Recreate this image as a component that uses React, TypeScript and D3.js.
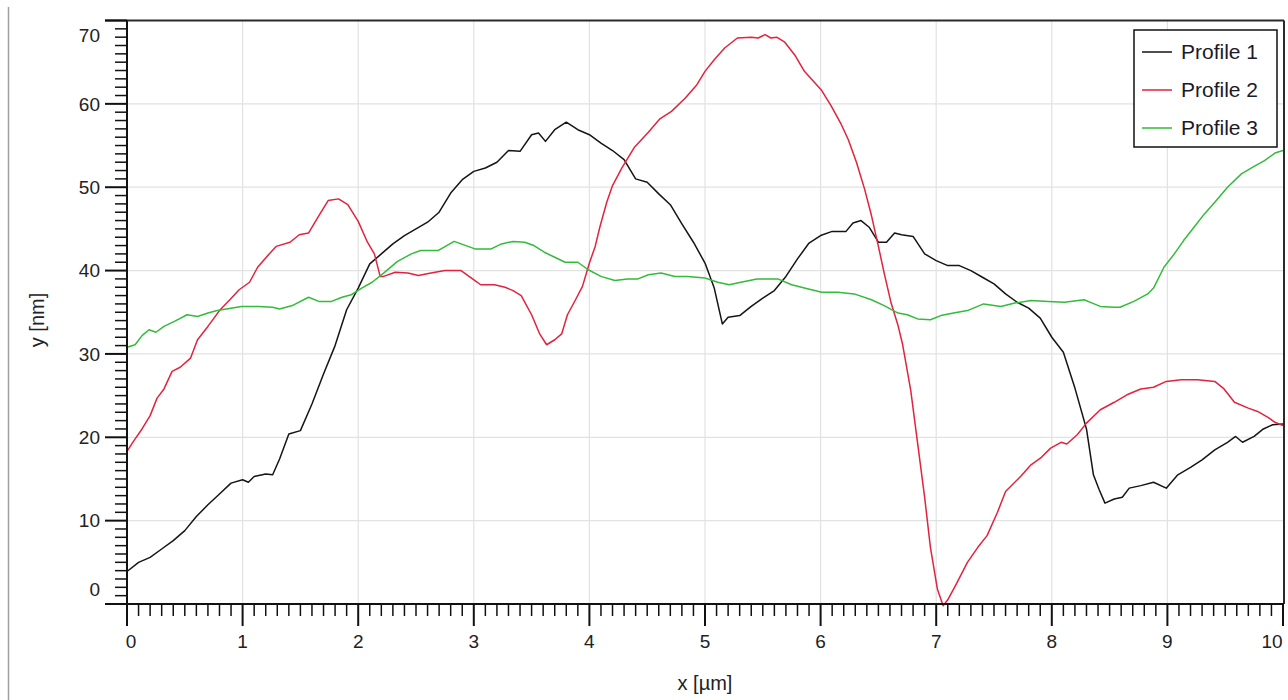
import React from 'react';
import * as d3 from 'd3';

// profile data: [x in µm, y in nm]
const profile1: [number, number][] = [
  [0, 3.9], [0.1, 5.0], [0.2, 5.6], [0.3, 6.6], [0.4, 7.6], [0.5, 8.8], [0.6, 10.5], [0.7, 11.9],
  [0.8, 13.2], [0.9, 14.5], [1.0, 14.9], [1.05, 14.6], [1.1, 15.3], [1.2, 15.6], [1.26, 15.5], [1.32, 17.4],
  [1.4, 20.4], [1.5, 20.8], [1.6, 24.0], [1.7, 27.6], [1.8, 31.0], [1.9, 35.3], [2.0, 37.9],
  [2.1, 40.8], [2.2, 42.0], [2.3, 43.2], [2.4, 44.2], [2.5, 45.0], [2.6, 45.8], [2.7, 47.0],
  [2.8, 49.3], [2.9, 50.9], [3.0, 51.9], [3.1, 52.3], [3.2, 53.0], [3.3, 54.4], [3.4, 54.3],
  [3.5, 56.3], [3.56, 56.5], [3.62, 55.5], [3.7, 56.9], [3.8, 57.8], [3.9, 56.9], [4.0, 56.3],
  [4.1, 55.3], [4.2, 54.4], [4.3, 53.3], [4.4, 51.0], [4.5, 50.6], [4.6, 49.2], [4.7, 47.9],
  [4.8, 45.6], [4.9, 43.4], [5.0, 40.9], [5.08, 37.9], [5.15, 33.6], [5.2, 34.4], [5.3, 34.6],
  [5.4, 35.7], [5.5, 36.7], [5.6, 37.6], [5.7, 39.3], [5.8, 41.4], [5.9, 43.3], [6.0, 44.2],
  [6.1, 44.7], [6.22, 44.7], [6.28, 45.7], [6.35, 46.0], [6.42, 45.2], [6.5, 43.4], [6.57, 43.4],
  [6.64, 44.5], [6.7, 44.3], [6.8, 44.1], [6.9, 42.0], [7.0, 41.2], [7.1, 40.6], [7.2, 40.6],
  [7.3, 40.0], [7.4, 39.2], [7.5, 38.4], [7.6, 37.2], [7.7, 36.2], [7.8, 35.5], [7.9, 34.3],
  [8.0, 32.0], [8.1, 30.2], [8.2, 25.9], [8.3, 21.0], [8.36, 15.5], [8.41, 13.7], [8.46, 12.1],
  [8.54, 12.6], [8.61, 12.8], [8.67, 13.9], [8.77, 14.2], [8.88, 14.6], [8.99, 13.9], [9.09, 15.5],
  [9.2, 16.4], [9.3, 17.3], [9.41, 18.5], [9.52, 19.4], [9.59, 20.1], [9.65, 19.4], [9.75, 20.1],
  [9.83, 21.0], [9.91, 21.5], [10.0, 21.6],
];

const profile2: [number, number][] = [
  [0, 18.3], [0.06, 19.6], [0.13, 21.0], [0.2, 22.6], [0.26, 24.7], [0.32, 25.8], [0.39, 27.9],
  [0.46, 28.4], [0.55, 29.5], [0.61, 31.7], [0.7, 33.3], [0.8, 35.2], [0.89, 36.5], [0.97, 37.7],
  [1.06, 38.6], [1.13, 40.4], [1.23, 42.0], [1.29, 42.9], [1.41, 43.4], [1.49, 44.3], [1.57, 44.5],
  [1.66, 46.6], [1.74, 48.4], [1.83, 48.6], [1.91, 47.9], [2.0, 45.9], [2.08, 43.4], [2.14, 42.0],
  [2.19, 39.3], [2.22, 39.3], [2.32, 39.8], [2.43, 39.7], [2.52, 39.4], [2.63, 39.7], [2.75, 40.0],
  [2.89, 40.0], [3.01, 38.8], [3.06, 38.3], [3.18, 38.3], [3.27, 38.0], [3.34, 37.6], [3.41, 37.0],
  [3.5, 34.7], [3.57, 32.4], [3.63, 31.1], [3.7, 31.7], [3.76, 32.4], [3.81, 34.7], [3.88, 36.5],
  [3.94, 38.1], [4.0, 40.9], [4.05, 42.9], [4.09, 45.2], [4.15, 48.2], [4.2, 50.2], [4.28, 52.3],
  [4.39, 54.8], [4.51, 56.6], [4.61, 58.2], [4.71, 59.1], [4.83, 60.7], [4.93, 62.3], [5.0, 63.9],
  [5.08, 65.3], [5.17, 66.7], [5.28, 67.9], [5.4, 68.0], [5.46, 67.9], [5.52, 68.3], [5.57, 67.9],
  [5.62, 68.0], [5.69, 67.4], [5.78, 65.8], [5.86, 63.9], [6.01, 61.6], [6.09, 59.8], [6.18, 57.5],
  [6.24, 55.7], [6.31, 53.0], [6.38, 49.8], [6.44, 46.6], [6.5, 42.9], [6.55, 39.7], [6.61, 36.1],
  [6.67, 33.4], [6.71, 31.1], [6.78, 25.6], [6.84, 19.2], [6.9, 12.8], [6.95, 6.8], [7.01, 1.8],
  [7.06, -0.2], [7.1, 0.5], [7.17, 2.3], [7.27, 5.0], [7.36, 6.8], [7.44, 8.2], [7.53, 11.0],
  [7.6, 13.5], [7.73, 15.3], [7.82, 16.7], [7.91, 17.6], [7.99, 18.7], [8.08, 19.4], [8.13, 19.2],
  [8.22, 20.3], [8.3, 21.7], [8.42, 23.3], [8.54, 24.2], [8.65, 25.1], [8.77, 25.8], [8.88, 26.0],
  [8.99, 26.7], [9.12, 26.9], [9.26, 26.9], [9.41, 26.7], [9.49, 25.8], [9.58, 24.2], [9.7, 23.5],
  [9.78, 23.1], [9.87, 22.4], [9.93, 21.8], [10.0, 21.4],
];

const profile3: [number, number][] = [
  [0, 30.8], [0.07, 31.1], [0.13, 32.2], [0.19, 32.9], [0.25, 32.6], [0.32, 33.3], [0.41, 33.9],
  [0.52, 34.7], [0.61, 34.5], [0.7, 34.9], [0.78, 35.2], [0.86, 35.4], [0.99, 35.7], [1.14, 35.7],
  [1.26, 35.6], [1.32, 35.4], [1.43, 35.8], [1.57, 36.8], [1.66, 36.3], [1.77, 36.3], [1.86, 36.8],
  [1.94, 37.1], [2.03, 37.9], [2.12, 38.6], [2.22, 39.7], [2.34, 41.1], [2.46, 42.0], [2.54, 42.4],
  [2.69, 42.4], [2.83, 43.5], [2.89, 43.2], [3.01, 42.6], [3.15, 42.6], [3.24, 43.2], [3.34, 43.5],
  [3.44, 43.4], [3.52, 43.0], [3.61, 42.2], [3.7, 41.6], [3.79, 41.0], [3.9, 41.0], [3.99, 40.1],
  [4.1, 39.3], [4.22, 38.8], [4.33, 39.0], [4.42, 39.0], [4.51, 39.5], [4.62, 39.7], [4.74, 39.3],
  [4.85, 39.3], [5.0, 39.1], [5.11, 38.6], [5.21, 38.3], [5.31, 38.6], [5.45, 39.0], [5.63, 39.0],
  [5.75, 38.3], [5.86, 37.9], [6.01, 37.4], [6.15, 37.4], [6.29, 37.2], [6.44, 36.5], [6.55, 35.8],
  [6.67, 34.9], [6.75, 34.7], [6.84, 34.2], [6.95, 34.1], [7.04, 34.6], [7.15, 34.9], [7.27, 35.2],
  [7.41, 36.0], [7.56, 35.7], [7.68, 36.1], [7.82, 36.4], [7.97, 36.3], [8.11, 36.2], [8.28, 36.5],
  [8.35, 36.1], [8.42, 35.7], [8.54, 35.6], [8.59, 35.6], [8.71, 36.3], [8.83, 37.2], [8.88, 37.9],
  [8.97, 40.4], [9.06, 42.0], [9.14, 43.6], [9.23, 45.2], [9.32, 46.8], [9.41, 48.2], [9.52, 50.0],
  [9.64, 51.6], [9.75, 52.5], [9.84, 53.2], [9.93, 54.1], [10.0, 54.4],
];

const seriesNames = ['Profile 1', 'Profile 2', 'Profile 3'];
const seriesColors = ['#151515', '#e3223e', '#33bb3a'];
const xTicks = [0, 1, 2, 3, 4, 5, 6, 7, 8, 9, 10];
const yTicks = [0, 10, 20, 30, 40, 50, 60, 70];

const W = 1288;
const H = 700;
const left = 127, right = 1283, top = 20.5, bottom = 604;
const font = 'Arial, "Liberation Sans", sans-serif';

export default function App() {
  const x = d3.scaleLinear().domain([0, 10]).range([left, right]);
  const y = d3.scaleLinear().domain([0, 70]).range([bottom, top]);
  const line = d3.line<[number, number]>().x(d => x(d[0])).y(d => y(d[1]));
  const profiles = [profile1, profile2, profile3];

  const xMinor = d3.range(0, 100).map(i => i / 10).filter(v => !xTicks.includes(v));
  const yMinor = d3.range(0, 70).filter(v => v % 10 !== 0);

  return (
    <svg width={W} height={H} style={{ position: 'absolute', left: 0, top: 0, background: '#fff' }}
      fontFamily={font}>
      {/* left panel edge */}
      <line x1={8.5} x2={8.5} y1={7} y2={H} stroke="#a0a0a0" strokeWidth={1.5} />

      {/* grid */}
      {xTicks.slice(1, -1).map(t => (
        <line key={'gx' + t} x1={x(t)} x2={x(t)} y1={top} y2={bottom} stroke="#e2e2e2" strokeWidth={1.2} />
      ))}
      {yTicks.slice(1, -1).map(t => (
        <line key={'gy' + t} x1={left} x2={right} y1={y(t)} y2={y(t)} stroke="#e2e2e2" strokeWidth={1.2} />
      ))}

      {/* profiles */}
      {profiles.map((p, i) => (
        <path key={i} d={line(p) || ''} fill="none" stroke={seriesColors[i]} strokeWidth={1.5}
          strokeLinejoin="round" />
      ))}

      {/* frame */}
      <line x1={105} x2={right + 1} y1={top} y2={top} stroke="#2a2a2a" strokeWidth={2} />
      <line x1={right + 1} x2={right + 1} y1={top} y2={bottom} stroke="#2a2a2a" strokeWidth={2} />
      <line x1={105} x2={right + 1} y1={bottom} y2={bottom} stroke="#111" strokeWidth={2} />
      <line x1={left} x2={left} y1={top} y2={bottom} stroke="#111" strokeWidth={2} />

      {/* y ticks */}
      {yTicks.map(t => (
        <line key={'yt' + t} x1={105} x2={left} y1={y(t)} y2={y(t)} stroke="#111" strokeWidth={2} />
      ))}
      {yMinor.map(t => (
        <line key={'ym' + t} x1={115} x2={left} y1={y(t)} y2={y(t)} stroke="#111" strokeWidth={1.5} />
      ))}
      {yTicks.map(t => (
        <text key={'yl' + t} x={100} y={Math.min(Math.max(y(t), 35), 589)} dy="0.35em" textAnchor="end"
          fontSize={19} fill="#222">{t}</text>
      ))}

      {/* x ticks */}
      {xTicks.map(t => (
        <line key={'xt' + t} x1={x(t)} x2={x(t)} y1={bottom} y2={626} stroke="#111" strokeWidth={2} />
      ))}
      {xMinor.map(t => (
        <line key={'xm' + t} x1={x(t)} x2={x(t)} y1={bottom} y2={616} stroke="#111" strokeWidth={1.5} />
      ))}
      {xTicks.map(t => (
        <text key={'xl' + t} x={Math.min(Math.max(x(t), 131), 1272)} y={648} textAnchor="middle"
          fontSize={19} fill="#222">{t}</text>
      ))}

      {/* axis titles */}
      <text x={705} y={690} textAnchor="middle" fontSize={20} fill="#222">x [µm]</text>
      <text transform="translate(44,320) rotate(-90)" textAnchor="middle" fontSize={20} fill="#222">y [nm]</text>

      {/* legend */}
      <rect x={1134} y={30} width={143} height={117} fill="#fff" stroke="#111" strokeWidth={1.5} />
      {seriesNames.map((name, i) => {
        const ly = 52 + i * 38;
        return (
          <g key={name}>
            <line x1={1142} x2={1172} y1={ly} y2={ly} stroke={seriesColors[i]} strokeWidth={1.5} />
            <text x={1181} y={ly} dy="0.35em" fontSize={21} fill="#1a1a2a">{name}</text>
          </g>
        );
      })}
    </svg>
  );
}
